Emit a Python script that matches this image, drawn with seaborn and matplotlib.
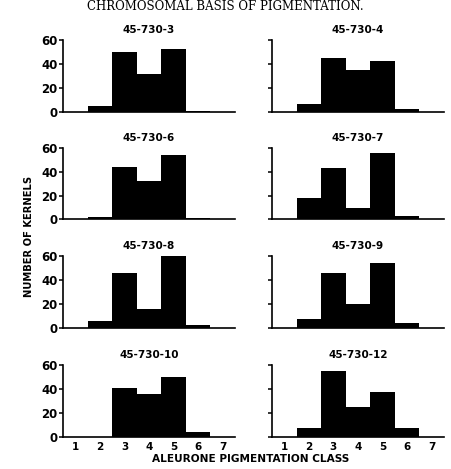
import matplotlib
matplotlib.use("Agg")
import matplotlib.pyplot as plt
import seaborn as sns

# aleurone pigmentation classes and kernel counts per line
classes = [1, 2, 3, 4, 5, 6, 7]
line_names = ["45-730-3", "45-730-4", "45-730-6", "45-730-7",
              "45-730-8", "45-730-9", "45-730-10", "45-730-12"]
counts_3 = [0, 5, 50, 32, 53, 1, 0]
counts_4 = [0, 7, 45, 35, 43, 3, 0]
counts_6 = [0, 2, 44, 32, 54, 1, 0]
counts_7 = [0, 18, 43, 10, 56, 3, 0]
counts_8 = [0, 6, 46, 16, 60, 2, 0]
counts_9 = [0, 7, 46, 20, 54, 4, 0]
counts_10 = [0, 0, 41, 36, 50, 4, 0]
counts_12 = [0, 7, 55, 25, 37, 7, 0]
all_counts = [counts_3, counts_4, counts_6, counts_7,
              counts_8, counts_9, counts_10, counts_12]
y_ticks = [0, 20, 40, 60]

sns.set_style("ticks")
plt.rcParams["font.family"] = ["DejaVu Sans"]
plt.rcParams["font.weight"] = "bold"
for key in ["text.color", "axes.labelcolor", "xtick.color",
            "ytick.color", "axes.edgecolor"]:
    plt.rcParams[key] = "black"

fig = plt.figure(figsize=(4.51, 4.69), dpi=100)

lefts = [0.140, 0.603]
bottoms = [0.761, 0.532, 0.301, 0.069]
w, h = 0.381, 0.153

for i, (name, counts) in enumerate(zip(line_names, all_counts)):
    row, col = divmod(i, 2)
    ax = fig.add_axes([lefts[col], bottoms[row], w, h])
    sns.histplot(x=classes, weights=counts, discrete=True, ax=ax,
                 color="black", alpha=1, edgecolor="black", linewidth=0)
    ax.set_xlim(0.5, 7.5)
    ax.set_ylim(0, 60)
    ax.set_yticks(y_ticks)
    ax.set_xlabel("")
    ax.set_ylabel("")
    ax.set_title(name, fontsize=7.5, fontweight="bold", pad=5)
    sns.despine(ax=ax)
    for s in ["left", "bottom"]:
        ax.spines[s].set_linewidth(1.2)
    ax.tick_params(axis="y", direction="out", length=3, width=1.1,
                   labelsize=8.5, pad=1)
    if col == 1:
        ax.set_yticklabels([])
    if row == 3:
        ax.set_xticks(classes)
        ax.tick_params(axis="x", length=0, labelsize=7.5, pad=4)
    else:
        ax.set_xticks([])

fig.text(0.5, 0.999, "CHROMOSOMAL BASIS OF PIGMENTATION.", ha="center",
         va="top", fontsize=8.5, fontweight="normal", family="serif")
fig.text(0.064, 0.495, "NUMBER OF KERNELS", rotation=90, ha="center",
         va="center", fontsize=7.2, fontweight="bold")
fig.text(0.556, 0.021, "ALEURONE PIGMENTATION CLASS", ha="center",
         va="center", fontsize=7.6, fontweight="bold")

fig.savefig("out.png", dpi=100)
